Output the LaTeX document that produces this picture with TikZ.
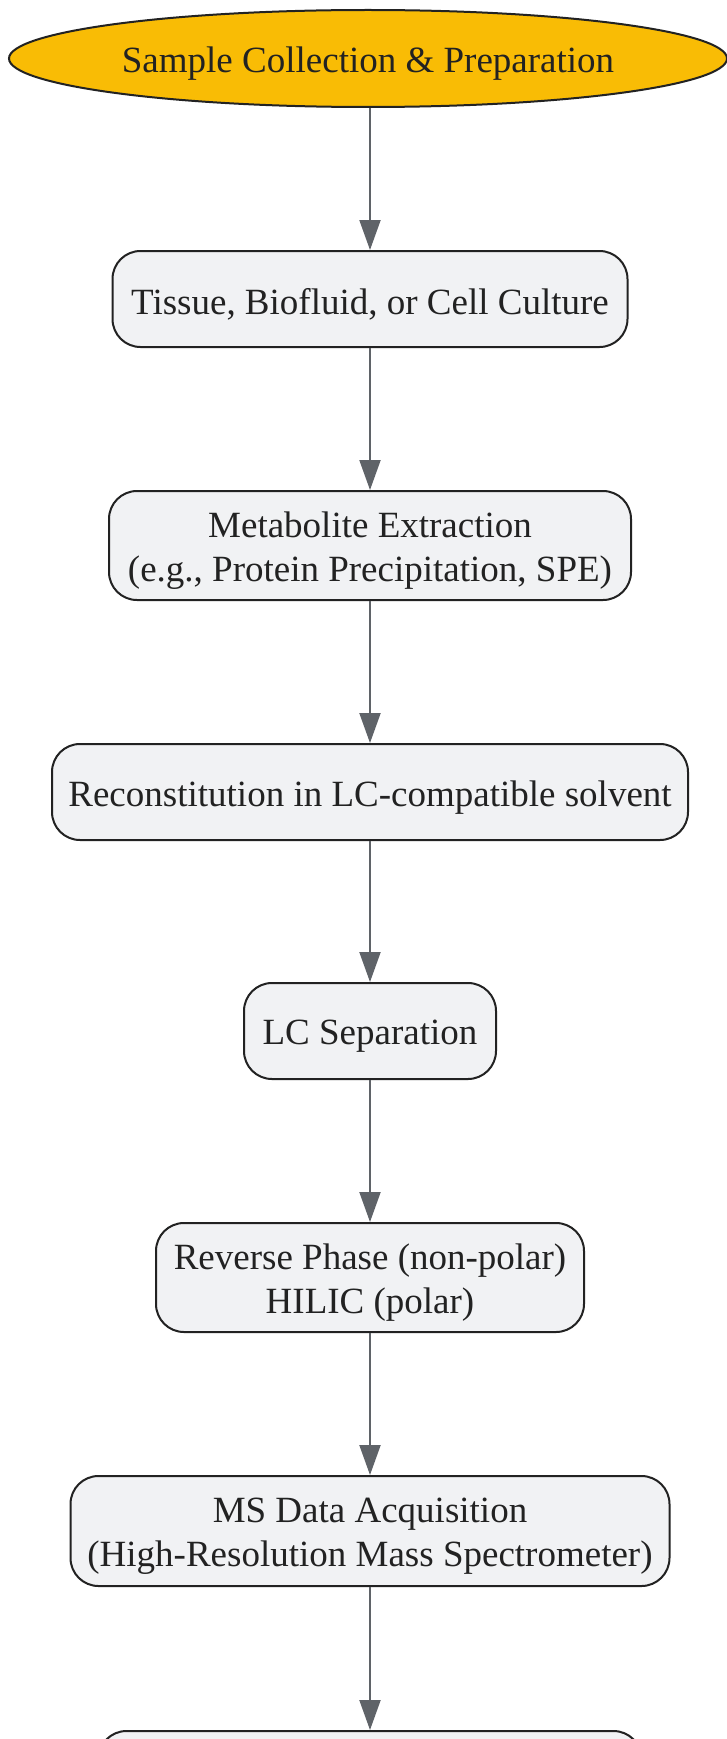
\documentclass[tikz,border=0pt]{standalone}
\usepackage{fontspec}
\setmainfont{Liberation Serif}
\usetikzlibrary{arrows.meta,shapes.geometric}
\definecolor{startfill}{HTML}{F9BC05}
\definecolor{boxfill}{HTML}{F1F2F4}
\definecolor{edgec}{HTML}{222222}
\definecolor{arrowc}{HTML}{5F6368}
\begin{document}
\begin{tikzpicture}[x=1pt,y=-1pt,
  stepbox/.style={draw=edgec, line width=2pt, fill=boxfill, rounded corners=28pt,
    minimum height=96pt, inner sep=0pt},
  start/.style={ellipse, draw=edgec, line width=2pt, fill=startfill,
    minimum width=718pt, minimum height=97pt, inner sep=0pt},
  txt/.style={text=edgec, font=\fontsize{37}{44}\selectfont, align=center,
    inner sep=0pt, yshift=-5.5pt},
  flow/.style={draw=arrowc, line width=2pt, -{Triangle[length=30pt,width=21pt]}}]
\fill[white] (0,0) rectangle (727,1739);
\useasboundingbox (0,0) rectangle (727,1739);
\node[start] (n1) at (368,58.5) {};
\node[stepbox, minimum width=515pt] (n2) at (370,299) {};
\node[stepbox, minimum width=522pt, minimum height=109pt] (n3) at (370,545.5) {};
\node[stepbox, minimum width=636pt] (n4) at (370,792) {};
\node[stepbox, minimum width=252pt] (n5) at (370,1031) {};
\node[stepbox, minimum width=428pt, minimum height=109pt] (n6) at (370,1277.5) {};
\node[stepbox, minimum width=599pt, minimum height=110pt] (n7) at (370,1531) {};
\node[stepbox, minimum width=543pt, minimum height=100pt, anchor=north] (n8) at (370,1730) {};
\node[txt] (t1) at (n1.center) {Sample Collection \& Preparation};
\node[txt] (t2) at (n2.center) {Tissue, Biofluid, or Cell Culture};
\node[txt] (t3) at (n3.center) {Metabolite Extraction\\(e.g., Protein Precipitation, SPE)};
\node[txt] (t4) at (n4.center) {Reconstitution in LC-compatible solvent};
\node[txt] (t5) at (n5.center) {LC Separation};
\node[txt] (t6) at (n6.center) {Reverse Phase (non-polar)\\HILIC (polar)};
\node[txt] (t7) at (n7.center) {MS Data Acquisition\\(High-Resolution Mass Spectrometer)};
\draw[flow] (n1.south -| n2.north) -- (n2.north);
\draw[flow] (n2.south) -- (n3.north);
\draw[flow] (n3.south) -- (n4.north);
\draw[flow] (n4.south) -- (n5.north);
\draw[flow] (n5.south) -- (n6.north);
\draw[flow] (n6.south) -- (n7.north);
\draw[flow] (n7.south) -- (n8.north);
\end{tikzpicture}
\end{document}
